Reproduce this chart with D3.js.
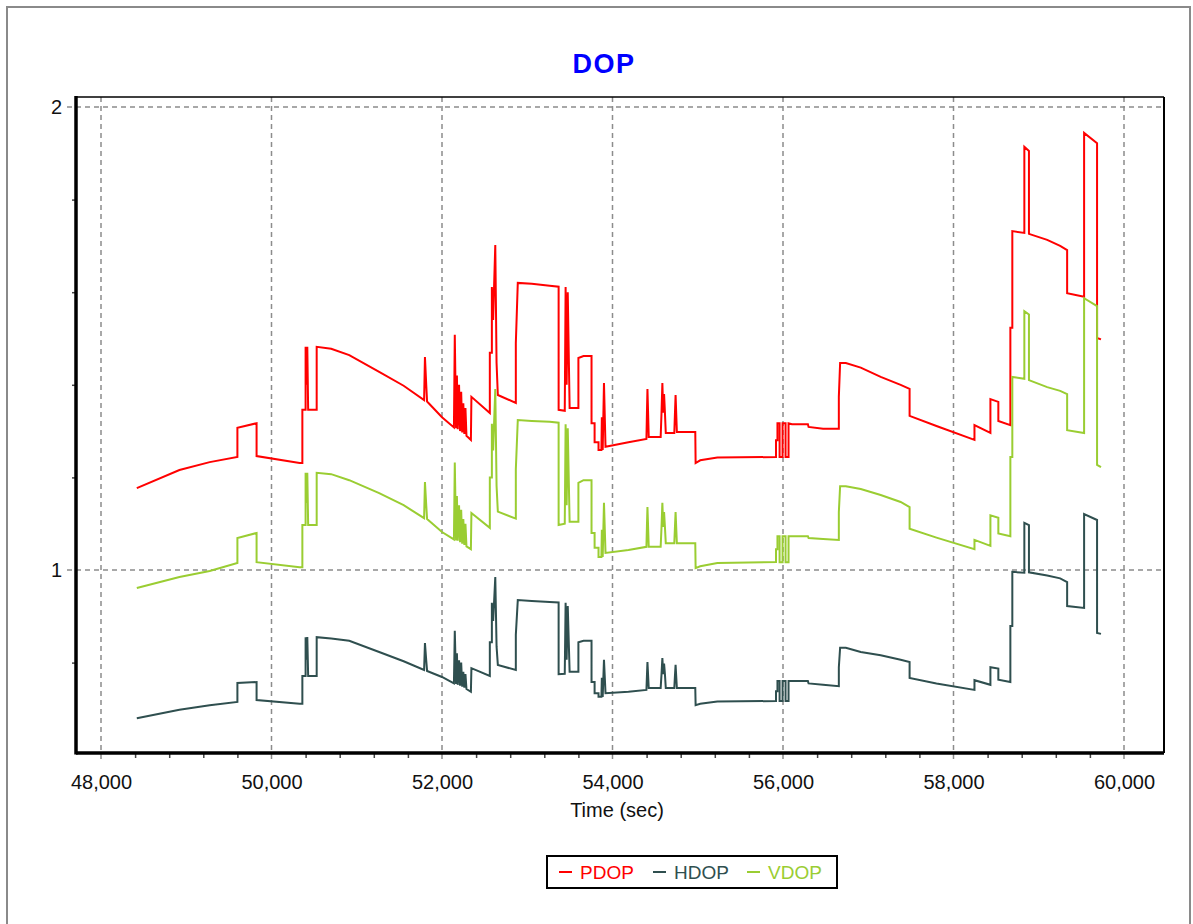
<!DOCTYPE html>
<html>
<head>
<meta charset="utf-8">
<script src="https://cdn.jsdelivr.net/npm/d3@7"></script>
<style>
  html, body { margin: 0; padding: 0; background: #fff; }
  svg { display: block; font-family: "Liberation Sans", Arial, sans-serif; }
</style>
</head>
<body>
<svg id="chart" width="1193" height="924"></svg>
<script>
// ---- data (time in seconds, DOP values) ----
const times = [
  48420,48920,49275,49600,49600,49825,49825,50330,50362,50362,
  50400,50400,50410,50420,50430,50530,50530,50700,50912,51263,
  51550,51790,51800,51815,51825,52000,52140,52150,52165,52175,
  52185,52200,52212,52225,52237,52250,52262,52275,52287,52339,
  52345,52561,52561,52585,52585,52600,52612,52625,52640,52655,
  52866,52866,52889,53053,53263,53368,53368,53440,53450,53462,
  53475,53497,53600,53600,53660,53754,53754,53790,53790,53836,
  53836,53870,53875,53885,53900,53918,54187,54398,54404,54410,
  54425,54565,54575,54585,54595,54605,54615,54625,54725,54732,
  54740,54755,54971,54975,55029,55230,55918,55918,55935,55935,
  55960,55960,55995,55995,56030,56030,56065,56065,56105,56292,
  56300,56470,56655,56655,56670,56737,56912,57146,57380,57485,
  57485,57800,58246,58246,58433,58433,58526,58526,58667,58667,
  58690,58690,58831,58831,58885,58885,59099,59251,59333,59333,
  59532,59532,59684,59684,59730];
const pdop = [
  1.177,1.216,1.233,1.244,1.307,1.317,1.246,1.231,1.231,1.346,
  1.346,1.482,1.40,1.482,1.346,1.346,1.482,1.478,1.464,1.428,
  1.398,1.367,1.460,1.40,1.364,1.330,1.308,1.508,1.306,1.42,
  1.304,1.40,1.300,1.385,1.297,1.36,1.294,1.35,1.290,1.281,
  1.374,1.339,1.469,1.469,1.611,1.54,1.62,1.702,1.447,1.378,
  1.361,1.490,1.620,1.618,1.614,1.612,1.346,1.344,1.611,1.40,
  1.60,1.350,1.350,1.458,1.462,1.462,1.317,1.317,1.276,1.276,
  1.259,1.259,1.33,1.259,1.404,1.266,1.276,1.283,1.34,1.391,
  1.287,1.287,1.34,1.404,1.34,1.38,1.34,1.296,1.296,1.335,
  1.378,1.298,1.298,1.231,1.237,1.243,1.244,1.28,1.28,1.317,
  1.317,1.244,1.244,1.317,1.317,1.244,1.244,1.317,1.315,1.315,
  1.309,1.305,1.305,1.374,1.447,1.447,1.437,1.417,1.400,1.391,
  1.333,1.311,1.281,1.313,1.296,1.369,1.363,1.322,1.313,1.523,
  1.523,1.732,1.728,1.914,1.905,1.726,1.713,1.700,1.691,1.598,
  1.590,1.944,1.922,1.501,1.498];
const hdop = [
  0.680,0.698,0.708,0.715,0.756,0.758,0.719,0.711,0.711,0.771,
  0.771,0.855,0.806,0.855,0.771,0.771,0.855,0.852,0.847,0.823,
  0.803,0.784,0.842,0.805,0.782,0.769,0.755,0.869,0.754,0.82,
  0.752,0.805,0.750,0.80,0.748,0.78,0.746,0.775,0.743,0.737,
  0.788,0.771,0.844,0.844,0.929,0.89,0.935,0.985,0.835,0.795,
  0.784,0.860,0.935,0.933,0.931,0.930,0.775,0.776,0.929,0.806,
  0.922,0.780,0.780,0.844,0.847,0.847,0.758,0.758,0.734,0.734,
  0.726,0.726,0.767,0.726,0.806,0.734,0.737,0.741,0.772,0.801,
  0.745,0.745,0.775,0.810,0.775,0.798,0.775,0.745,0.745,0.77,
  0.795,0.745,0.745,0.708,0.711,0.716,0.717,0.738,0.738,0.760,
  0.760,0.717,0.717,0.760,0.760,0.717,0.717,0.760,0.760,0.760,
  0.755,0.752,0.749,0.790,0.832,0.832,0.823,0.816,0.806,0.801,
  0.767,0.755,0.741,0.762,0.752,0.790,0.787,0.763,0.758,0.879,
  0.879,0.996,0.994,1.102,1.097,0.995,0.988,0.982,0.974,0.922,
  0.918,1.121,1.108,0.864,0.862];
const vdop = [
  0.961,0.985,0.998,1.015,1.069,1.080,1.017,1.006,1.006,1.097,
  1.097,1.210,1.145,1.210,1.097,1.097,1.210,1.207,1.194,1.166,
  1.140,1.112,1.190,1.14,1.110,1.082,1.066,1.232,1.064,1.16,
  1.063,1.14,1.060,1.13,1.057,1.11,1.054,1.10,1.051,1.045,
  1.123,1.091,1.200,1.200,1.316,1.258,1.323,1.391,1.182,1.126,
  1.111,1.217,1.324,1.322,1.320,1.318,1.097,1.100,1.315,1.14,
  1.306,1.104,1.104,1.188,1.194,1.194,1.080,1.080,1.048,1.048,
  1.028,1.028,1.087,1.028,1.145,1.037,1.043,1.050,1.095,1.136,
  1.050,1.050,1.093,1.145,1.093,1.125,1.093,1.058,1.058,1.09,
  1.125,1.058,1.058,1.004,1.008,1.015,1.017,1.045,1.045,1.073,
  1.073,1.017,1.017,1.073,1.073,1.017,1.017,1.073,1.073,1.073,
  1.069,1.067,1.065,1.125,1.181,1.181,1.175,1.162,1.147,1.136,
  1.089,1.070,1.045,1.065,1.052,1.118,1.113,1.079,1.073,1.244,
  1.244,1.417,1.413,1.559,1.552,1.410,1.395,1.387,1.380,1.302,
  1.296,1.587,1.570,1.227,1.222];

const seriesNames = ["PDOP", "HDOP", "VDOP"];
const seriesColors = ["#ff0000", "#2f4f4f", "#9acd32"];
const xMajorTicks = [48000, 50000, 52000, 54000, 56000, 58000, 60000];
const xMinorTicks = d3.range(48000, 60001, 400);
const yMajorTicks = [1, 2];
const yMinorTicks = [0.8, 1.2, 1.4, 1.6, 1.8];
const titleText = "DOP";
const xTitle = "Time (sec)";

// ---- layout ----
const svg = d3.select("#chart");
const plot = { left: 76, right: 1164, top: 97, bottom: 753 };
const x = d3.scaleLinear().domain([48000, 60000]).range([101, 1124]);
const y = d3.scaleLinear().domain([1, 2]).range([570, 107]);

// outer frame
svg.append("rect").attr("x", 7).attr("y", 7).attr("width", 1183).attr("height", 940)
  .attr("fill", "#fff").attr("stroke", "#8a8a8a").attr("stroke-width", 2);

// title
svg.append("text").attr("x", 604).attr("y", 73).attr("text-anchor", "middle")
  .attr("font-size", 27).attr("font-weight", "bold").attr("letter-spacing", 1.5)
  .attr("fill", "#0000ff").text(titleText);

// grid
const grid = svg.append("g").attr("stroke", "#8c8c8c").attr("stroke-width", 1.5)
  .attr("stroke-dasharray", "5,4");
grid.selectAll("line.v").data(xMajorTicks).join("line").attr("class", "v")
  .attr("x1", d => x(d)).attr("x2", d => x(d))
  .attr("y1", plot.top).attr("y2", plot.bottom + 8);
grid.selectAll("line.h").data(yMajorTicks).join("line").attr("class", "h")
  .attr("y1", d => y(d)).attr("y2", d => y(d))
  .attr("x1", plot.left - 9).attr("x2", plot.right);

// series
const idx = d3.range(times.length);
const values = [pdop, hdop, vdop];
const line = arr => d3.line().x(i => x(times[i])).y(i => y(arr[i]));
const drawOrder = [0, 2, 1];
drawOrder.forEach(s => {
  svg.append("path").attr("d", line(values[s])(idx))
    .attr("fill", "none").attr("stroke", seriesColors[s])
    .attr("stroke-width", 2).attr("stroke-linejoin", "miter");
});

// plot frame
svg.append("line").attr("x1", plot.left).attr("x2", plot.right).attr("y1", plot.top).attr("y2", plot.top)
  .attr("stroke", "#000").attr("stroke-width", 1.5);
svg.append("line").attr("x1", plot.right).attr("x2", plot.right).attr("y1", plot.top).attr("y2", plot.bottom)
  .attr("stroke", "#000").attr("stroke-width", 2);

// x axis
const xAxis = d3.axisBottom(x).tickValues(xMajorTicks).tickFormat(d3.format(",")).tickSize(0).tickPadding(22);
const gx = svg.append("g").attr("transform", `translate(0,${plot.bottom})`).call(xAxis);
gx.select(".domain").remove();
gx.selectAll("text").attr("font-size", 20).attr("fill", "#111").attr("font-family", "Liberation Sans, Arial, sans-serif");
const xMinor = d3.axisBottom(x).tickValues(xMinorTicks.filter(d => !xMajorTicks.includes(d))).tickSize(5).tickFormat("");
const gxm = svg.append("g").attr("transform", `translate(0,${plot.bottom})`).call(xMinor);
gxm.select(".domain").remove();
gxm.selectAll("line").attr("stroke", "#444").attr("stroke-width", 1.5);

// y axis
const yAxis = d3.axisLeft(y).tickValues(yMajorTicks).tickFormat(d3.format("d")).tickSize(0).tickPadding(14);
const gy = svg.append("g").attr("transform", `translate(${plot.left},0)`).call(yAxis);
gy.select(".domain").remove();
gy.selectAll("text").attr("font-size", 20).attr("fill", "#111").attr("font-family", "Liberation Sans, Arial, sans-serif");
const yMinor = d3.axisLeft(y).tickValues(yMinorTicks).tickSize(4).tickFormat("");
const gym = svg.append("g").attr("transform", `translate(${plot.left},0)`).call(yMinor);
gym.select(".domain").remove();
gym.selectAll("line").attr("stroke", "#444").attr("stroke-width", 1.5);

// thick axis lines
svg.append("line").attr("x1", plot.left).attr("x2", plot.left).attr("y1", plot.top - 1).attr("y2", plot.bottom + 1.5)
  .attr("stroke", "#000").attr("stroke-width", 3.5);
svg.append("line").attr("x1", plot.left).attr("x2", plot.right).attr("y1", plot.bottom).attr("y2", plot.bottom)
  .attr("stroke", "#000").attr("stroke-width", 3.5);

// x title
svg.append("text").attr("x", 617).attr("y", 817).attr("text-anchor", "middle")
  .attr("font-size", 20).attr("fill", "#111").text(xTitle);

// legend
const lg = svg.append("g");
lg.append("rect").attr("x", 547).attr("y", 856).attr("width", 290).attr("height", 32)
  .attr("fill", "#fff").attr("stroke", "#000").attr("stroke-width", 2);
const legendX = [559, 653, 747];
seriesNames.forEach((n, i) => {
  lg.append("line").attr("x1", legendX[i]).attr("x2", legendX[i] + 13).attr("y1", 872).attr("y2", 872)
    .attr("stroke", seriesColors[i]).attr("stroke-width", 2);
  lg.append("text").attr("x", legendX[i] + 21).attr("y", 879).attr("font-size", 19)
    .attr("fill", seriesColors[i]).text(n);
});
</script>
</body>
</html>
